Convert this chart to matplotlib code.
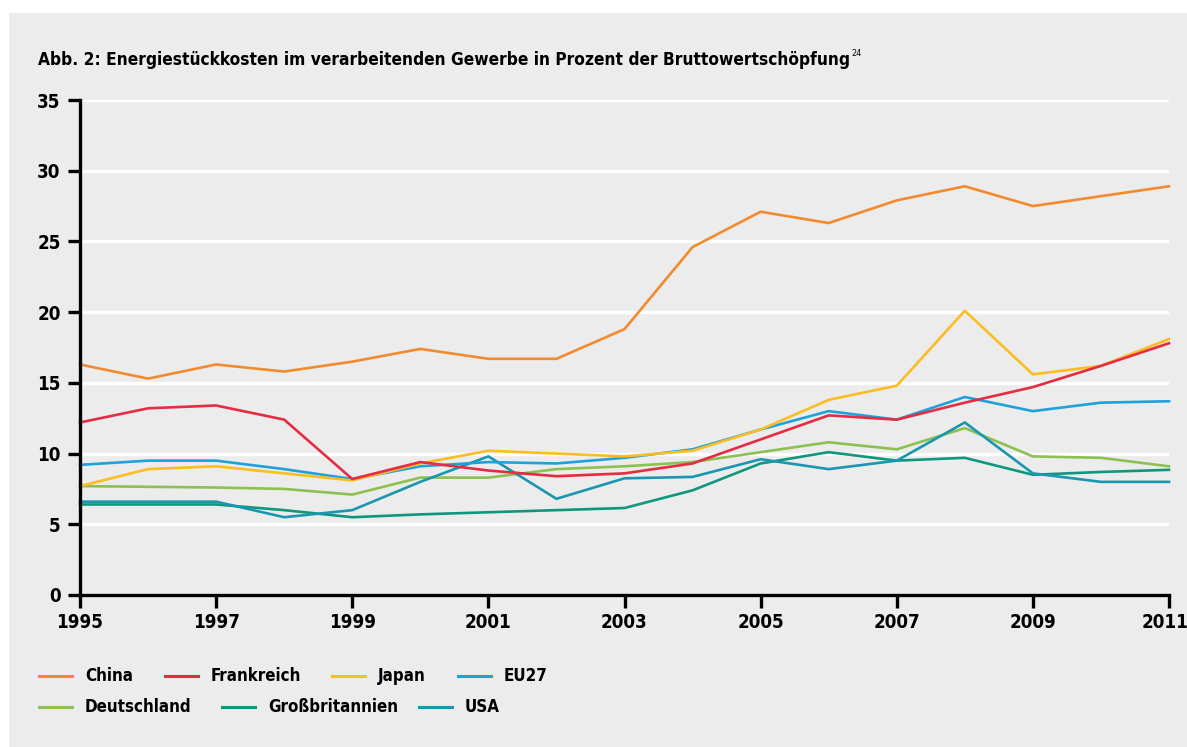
# Energiestückkosten im verarbeitenden Gewerbe -> out.png
import matplotlib
matplotlib.use("Agg")
import matplotlib.pyplot as plt
import matplotlib.transforms as mtransforms
from matplotlib.lines import Line2D
from matplotlib.patches import Rectangle

plt.rcParams["font.family"] = ["DejaVu Sans"]
plt.rcParams["font.stretch"] = "condensed"
plt.rcParams["font.weight"] = "bold"

years = list(range(1995, 2012))
china = [16.3, 15.3, 16.3, 15.8, 16.5, 17.4, 16.7, 16.7, 18.8, 24.6, 27.1, 26.3, 27.9, 28.9, 27.5, 28.2, 28.9]
frankreich = [12.2, 13.2, 13.4, 12.4, 8.2, 9.4, 8.8, 8.4, 8.6, 9.3, 11.0, 12.7, 12.4, 13.6, 14.7, 16.2, 17.8]
japan = [7.7, 8.9, 9.1, 8.6, 8.1, 9.3, 10.2, 10.0, 9.8, 10.2, 11.7, 13.8, 14.8, 20.1, 15.6, 16.2, 18.1]
eu27 = [9.2, 9.5, 9.5, 8.9, 8.2, 9.1, 9.4, 9.3, 9.7, 10.3, 11.7, 13.0, 12.4, 14.0, 13.0, 13.6, 13.7]
deutschland = [7.7, 7.65, 7.6, 7.5, 7.1, 8.3, 8.3, 8.9, 9.1, 9.4, 10.1, 10.8, 10.3, 11.8, 9.8, 9.7, 9.1]
grossbritannien = [6.4, 6.4, 6.4, 6.0, 5.5, 5.7, 5.85, 6.0, 6.15, 7.4, 9.3, 10.1, 9.5, 9.7, 8.5, 8.7, 8.85]
usa = [6.6, 6.6, 6.6, 5.5, 6.0, 8.0, 9.8, 6.8, 8.25, 8.35, 9.6, 8.9, 9.5, 12.2, 8.6, 8.0, 8.0]

names = ["China", "Frankreich", "Japan", "EU27", "Deutschland", "Großbritannien", "USA"]
colors = ["#f28a2e", "#e52c43", "#fbbd22", "#1ea2da", "#8cc152", "#0f977e", "#1a97ae"]
series = [china, frankreich, japan, eu27, deutschland, grossbritannien, usa]
# draw order: lower lines first so the top ones match the picture
order = [4, 5, 6, 3, 2, 1, 0]

bg = "#ececec"
fig = plt.figure(figsize=(11.87, 7.47), dpi=100)
fig.patch.set_facecolor("white")
fig.patches.append(Rectangle((9 / 1187, 0), 1, 1 - 13 / 747, transform=fig.transFigure,
                             fc=bg, ec="none", zorder=-5))

ax = fig.add_axes([80 / 1187, 1 - 595 / 747, 1089 / 1187, 495 / 747])
ax.set_zorder(2)
ax.set_facecolor(bg)
for i in order:
    ax.plot(years, series[i], color=colors[i], lw=1.9, zorder=3, clip_on=False)

ax.set_xlim(1995, 2011)
ax.set_ylim(0, 35)
ax.set_yticks(range(0, 36, 5))
ax.set_xticks(range(1995, 2012, 2))
ax.grid(axis="y", color="white", lw=2.4, zorder=1)
ax.set_axisbelow(True)
for s in ["top", "right"]:
    ax.spines[s].set_visible(False)
for s in ["left", "bottom"]:
    ax.spines[s].set_linewidth(2.4)
    ax.spines[s].set_zorder(4)
ax.tick_params(axis="both", length=9, width=2.4, labelsize=13.5, pad=4)
ax.tick_params(axis="y", pad=5)
for lab in ax.get_xticklabels() + ax.get_yticklabels():
    lab.set_fontweight("bold")
# nudge the last year label so it stays inside the picture
last = ax.get_xticklabels()[-1]
last.set_transform(last.get_transform() +
                   mtransforms.ScaledTranslation(-4 / 100, 0, fig.dpi_scale_trans))

title = fig.text(38 / 1187, 1 - 60 / 747,
                 "Abb. 2: Energiestückkosten im verarbeitenden Gewerbe in Prozent der Bruttowertschöpfung",
                 fontsize=12.4, fontweight="bold", va="center", ha="left")
fig.canvas.draw()
bb = title.get_window_extent()
fig.text(bb.x1 / 1187 + 0.001, 1 - 53 / 747, "24", fontsize=6.5, va="center", ha="left",
         fontweight="normal")

# legend laid out by hand, two rows
leg_pos = [(39, 676), (165, 676), (332, 676), (458, 676),
           (39, 707), (222, 707), (419, 707)]
for (x, y), name, c in zip(leg_pos, names, colors):
    fig.add_artist(Line2D([x / 1187, (x + 33) / 1187], [1 - y / 747, 1 - y / 747],
                          color=c, lw=2.2, transform=fig.transFigure))
    fig.text((x + 46) / 1187, 1 - y / 747, name, fontsize=12.2, fontweight="bold",
             va="center", ha="left")

fig.savefig("out.png", dpi=100, facecolor=fig.get_facecolor())
